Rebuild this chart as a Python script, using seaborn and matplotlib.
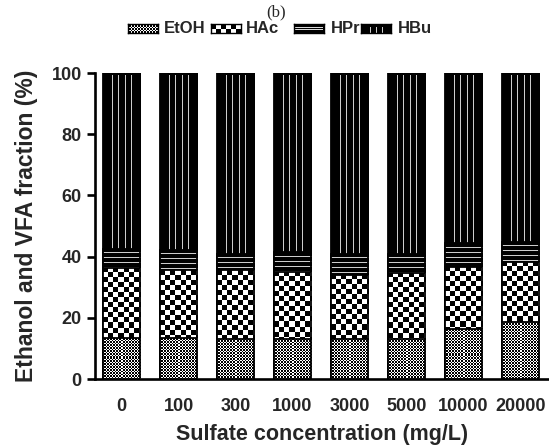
import numpy as np
import pandas as pd
import matplotlib
matplotlib.use("Agg")
import matplotlib.pyplot as plt
import seaborn as sns

# ---------------- data ----------------
categories = ['0', '100', '300', '1000', '3000', '5000', '10000', '20000']
etoh = [13.5, 13.5, 13.0, 13.0, 13.0, 13.0, 16.5, 18.5]
hac = [22.9, 22.1, 22.6, 22.0, 21.0, 21.7, 20.2, 19.8]
hpr = [6.1, 6.6, 5.4, 6.5, 7.0, 6.3, 7.7, 6.6]
hbu = [57.5, 57.8, 59.0, 58.5, 59.0, 59.0, 55.6, 55.1]
series_names = ['EtOH', 'HAc', 'HPr', 'HBu']
yticks = [0, 20, 40, 60, 80, 100]
xlabel = 'Sulfate concentration (mg/L)'
ylabel = 'Ethanol and VFA fraction (%)'
title = '(b)'

sns.set_theme(style='white')
plt.rcParams['font.family'] = ['Liberation Sans', 'DejaVu Sans']

W, H = 549, 448
fig = plt.figure(figsize=(W / 100, H / 100), dpi=100)
ax = fig.add_axes([95 / W, 1 - 379 / H, (W - 95) / W, (379 - 73) / H])


# ---------------- fill patterns (pixel arrays, 1 = white) ----------------
def pat_fine(w, h):
    j, i = np.mgrid[0:h, 0:w]
    white = ((i + j) % 3 != 0) & ((i - j) % 3 != 0)
    return white.astype(float)


def pat_checker(w, h):
    j, i = np.mgrid[0:h, 0:w]
    return (((i // 5) + (j // 5)) % 2).astype(float)


def pat_hlines(w, h):
    j, i = np.mgrid[0:h, 0:w]
    return np.where((j % 5) == 4, 0.8, 0.0)


def pat_vlines(w, h):
    j, i = np.mgrid[0:h, 0:w]
    m = ((i % 6) == 3) & (i > 3) & (i < w - 4) & (j > 2)
    return np.where(m, 0.8, 0.0)


patterns = {'EtOH': pat_fine, 'HAc': pat_checker, 'HPr': pat_hlines, 'HBu': pat_vlines}

# ---------------- stacked bars via seaborn ----------------
df = pd.DataFrame({'conc': categories, 'EtOH': etoh, 'HAc': hac, 'HPr': hpr, 'HBu': hbu})
cum = df[series_names].cumsum(axis=1)
cum['conc'] = categories

drawn = []
for k, name in enumerate(reversed(series_names)):
    sns.barplot(data=cum, x='conc', y=name, order=categories, width=0.65,
                color='black', fill=False, linewidth=1.3, errorbar=None,
                ax=ax, zorder=3 + 2 * k)
    for p in ax.containers[-1].patches:
        p.set_facecolor('none')
        p.set_edgecolor('black')
        drawn.append((p, name, 2.5 + 2 * k))

ax.set_xlim(-0.465, 7.5)
ax.set_ylim(0, 100)

for p, name, z in drawn:
    bb = p.get_bbox()
    x0, x1, y0, y1 = bb.x0, bb.x1, bb.y0, bb.y1
    d = ax.transData.transform([[x0, y0], [x1, y1]])
    w = max(int(round(abs(d[1, 0] - d[0, 0]))), 1)
    h = max(int(round(abs(d[1, 1] - d[0, 1]))), 1)
    arr = patterns[name](w, h)
    im = ax.imshow(arr, extent=(x0, x1, y0, y1), origin='upper', cmap='gray',
                   vmin=0, vmax=1, interpolation='nearest', aspect='auto', zorder=z)
    im.set_clip_path(p)

ax.set_xlim(-0.465, 7.5)
ax.set_ylim(0, 100)

# ---------------- axes styling ----------------
for s in ['top', 'right']:
    ax.spines[s].set_visible(False)
for s in ['left', 'bottom']:
    ax.spines[s].set_linewidth(1.9)
    ax.spines[s].set_color('black')
ax.set_yticks(yticks)
ax.set_yticklabels([str(v) for v in yticks])
ax.tick_params(axis='y', left=True, length=6, width=1.9, pad=3.5, labelsize=13, color='black')
ax.tick_params(axis='x', bottom=False, length=0, pad=14, labelsize=13)
for t in ax.get_xticklabels() + ax.get_yticklabels():
    t.set_fontweight('bold')
ax.set_xlabel(xlabel, fontsize=15.5, fontweight='bold', labelpad=6)
ax.set_ylabel(ylabel, fontsize=16.5, fontweight='bold', labelpad=10)
ax.grid(False)

# ---------------- legend (pattern swatches + text) ----------------
sw_x = [128, 211, 294, 361]
tx_x = [164, 246, 331, 398]
sw_w, sw_y0, sw_y1 = 30, 24, 33
for name, sx, tx in zip(series_names, sw_x, tx_x):
    sa = fig.add_axes([sx / W, 1 - sw_y1 / H, sw_w / W, (sw_y1 - sw_y0) / H])
    arr = patterns[name](sw_w, sw_y1 - sw_y0)
    if name == 'HPr':
        arr = np.zeros_like(arr)
        arr[3, 1:-1] = 0.85
        arr[5, 1:-1] = 0.85
    sa.imshow(arr, cmap='gray', vmin=0, vmax=1, interpolation='nearest', aspect='auto')
    sa.set_xticks([])
    sa.set_yticks([])
    for s in sa.spines.values():
        s.set_linewidth(1.0)
        s.set_color('black')
        s.set_visible(True)
    fig.text(tx / W, 1 - 28.5 / H, name, ha='left', va='center', fontsize=12,
             fontweight='bold')

fig.text(276 / W, 1 - 12.5 / H, title, ha='center', va='center', fontsize=12,
         family=['Liberation Serif', 'DejaVu Serif'])

fig.savefig('out.png', dpi=100)
